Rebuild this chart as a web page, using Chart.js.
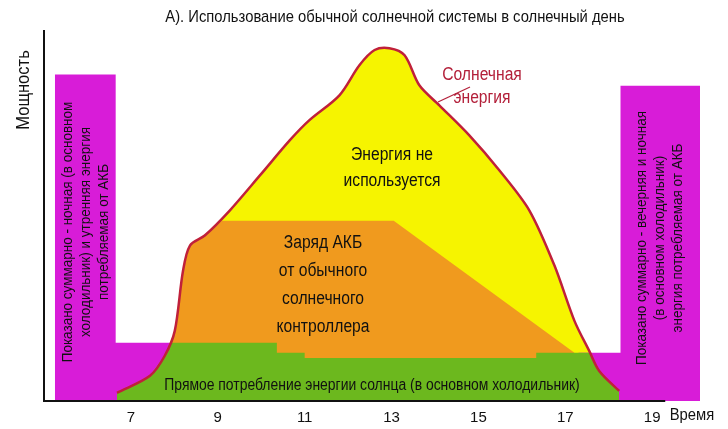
<!DOCTYPE html><html><head><meta charset="utf-8">
<script src="https://cdn.jsdelivr.net/npm/chart.js@4/dist/chart.umd.min.js"></script>
<style>body{margin:0;background:#fff}#w{width:728px;height:429px}</style></head><body><div id="w"><canvas id="c"></canvas></div>
<script>
const tickHours=[7,9,11,13,15,17,19];
const solarX=[6.68,7.44,7.78,8.01,8.2,8.36,8.7,9.28,9.97,10.66,11.11,11.8,12.26,12.61,12.95,13.3,13.64,14.1,14.79,15.48,16.17,16.75,17.21,17.55,17.78,18.24];
const solarY=[2.2,6.8,12.2,18.9,35.1,41.9,44.6,51.4,60.8,70.3,75.7,82.4,90.5,94.6,95.1,93.2,85.1,79.7,71.6,62.2,51.4,36.5,21.6,13.5,8.1,2.7];
const chargeX=[7.9,8.01,8.2,8.36,8.7,9.1,13.05,17.21,17.21];
const chargeY=[15.7,18.9,35.1,41.9,44.6,48.6,48.6,13,0];
const directX=[6.68,7.44,7.78,7.9,10.36,10.36,11.0,11.0,16.33,16.33,17.55,17.78,18.24];
const directY=[2.2,6.8,12.2,15.7,15.7,13,13,11.6,11.6,13,13,8.1,2.7];
const leftX=[5.25,5.25,6.65,6.65,7.9,7.9];
const leftY=[0,88,88,15.7,15.7,0];
const rightX=[17.3,17.3,18.27,18.27,20.1,20.1];
const rightY=[0,13,13,85,85,0];
const pts=(xs,ys)=>xs.map((x,i)=>({x,y:ys[i]}));
const texts={
 title:'А). Использование обычной солнечной системы в солнечный день',
 yTitle:'Мощность',xTitle:'Время',
 solar:['Солнечная','энергия'],
 unused:['Энергия не','используется'],
 charge:['Заряд АКБ','от обычного','солнечного','контроллера'],
 direct:'Прямое потребление энергии солнца (в основном холодильник)',
 left:['Показано суммарно - ночная (в основном','холодильник) и утренняя энергия','потребляемая от АКБ'],
 right:['Показано суммарно - вечерняя и ночная','(в основном холодильник)','энергия потребляемая от АКБ']
};
const F='"Liberation Sans", Arial, sans-serif';
const deco={id:'deco',afterDraw(ch){
 const c=ch.ctx,x=ch.scales.x,y=ch.scales.y;
 c.save();c.fillStyle='#111';c.strokeStyle='#111';
 c.lineWidth=2;c.beginPath();c.moveTo(x.getPixelForValue(5),y.getPixelForValue(100));c.lineTo(x.getPixelForValue(5),y.getPixelForValue(0));c.lineTo(x.getPixelForValue(19.3),y.getPixelForValue(0));c.stroke();
 c.textAlign='center';c.textBaseline='middle';
 const T=(t,cx,cy,rot)=>{c.save();c.translate(cx,cy);if(rot)c.rotate(-Math.PI/2);c.scale(0.87,1);c.fillText(t,0,0);c.restore();};
 const ml=(arr,cx,cy,lh)=>arr.forEach((t,i)=>T(t,cx,cy+(i-(arr.length-1)/2)*lh));
 c.font='17px '+F;
 T(texts.title,395,17);
 T(texts.xTitle,692,415);
 c.font='19px '+F;T(texts.yTitle,24,90,true);
 c.font='18px '+F;
 ml(texts.unused,392,168,26);
 ml(texts.charge,323,285,28);
 c.font='16px '+F;T(texts.direct,372,386);
 c.fillStyle='#b3203a';c.font='18px '+F;ml(texts.solar,482,87,23);
 c.strokeStyle='#b3203a';c.lineWidth=1.2;c.beginPath();c.moveTo(470,87);c.lineTo(438,102);c.stroke();
 c.fillStyle='#111';c.font='15.5px '+F;
 const rl=(arr,cx,cy,lh)=>arr.forEach((t,i)=>T(t,cx+(i-(arr.length-1)/2)*lh,cy,true));
 rl(texts.left,86,232,18);
 rl(texts.right,660,238,18);
 c.restore();}};
const ds=(d,bg,order,extra)=>Object.assign({data:d,backgroundColor:bg,borderWidth:0,pointRadius:0,fill:'origin',tension:0,order},extra||{});
new Chart(document.getElementById('c'),{type:'line',
 data:{datasets:[
  ds(pts(solarX,solarY),'#f6f400',10,{tension:0.3}),
  ds(pts(leftX,leftY),'#d81cd8',9),
  ds(pts(rightX,rightY),'#d81cd8',9),
  ds(pts(chargeX,chargeY),'#f09a1e',8),
  ds(pts(directX,directY),'#6cb81e',7),
  {data:pts(solarX,solarY),borderColor:'#c0203a',borderWidth:2.5,pointRadius:0,fill:false,tension:0.3,order:1}
 ]},
 options:{responsive:true,maintainAspectRatio:false,animation:false,
  layout:{padding:{left:44,right:28,top:30,bottom:2}},
  plugins:{legend:{display:false},tooltip:{enabled:false}},
  scales:{
   x:{type:'linear',min:5,max:20.1,grid:{display:false},border:{display:false},
      afterBuildTicks:s=>{s.ticks=tickHours.map(v=>({value:v}))},
      ticks:{color:'#111',font:{size:15,family:F},padding:0}},
   y:{min:0,max:100,display:false}
  }}, plugins:[deco]});
</script></body></html>
